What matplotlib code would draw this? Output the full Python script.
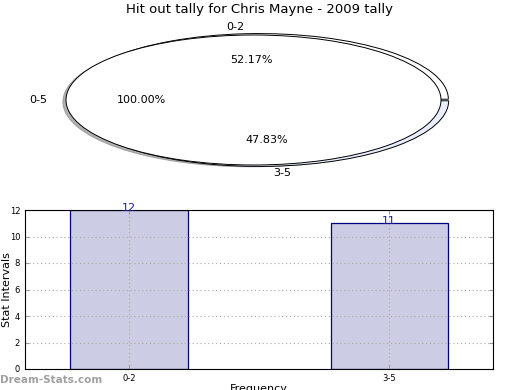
import matplotlib
matplotlib.use("Agg")
import matplotlib.pyplot as plt

# pie data
inner_labels = ["0-5"]
inner_values = [23]
outer_labels = ["0-2", "3-5"]
outer_values = [12, 11]

# bar data
bar_labels = ["0-2", "3-5"]
bar_values = [12, 11]

fig = plt.figure(figsize=(5.2, 3.9), dpi=100)
W, H = 520.0, 390.0

fig.text(260 / W, 1 - 10 / H, "Hit out tally for Chris Mayne - 2009 tally",
         ha="center", va="center", fontsize=9.5)

# top: flattened pie (outer thin ring under an inner full wedge)
ax1 = fig.add_axes([66 / W, 1 - 165 / H, 375 / W, 130 / H])
ax1.pie(outer_values, labels=outer_labels, autopct="%.2f%%", startangle=0,
        counterclock=True, radius=1.01, center=(0.03, 0.0),
        explode=[0.012, 0.012],
        colors=["white", "#e8eefc"],
        wedgeprops=dict(edgecolor="black", linewidth=0.7),
        textprops=dict(fontsize=8), labeldistance=1.1, pctdistance=0.6)
ax1.pie(inner_values, labels=inner_labels, autopct="%.2f%%", startangle=0,
        radius=1.0, shadow=dict(shade=0.5, ox=-0.012, oy=-0.02, alpha=0.6),
        colors=["white"],
        wedgeprops=dict(edgecolor="black", linewidth=0.7),
        textprops=dict(fontsize=8), labeldistance=1.1, pctdistance=0.6)
ax1.set_aspect("auto")
ax1.set_xlim(-1, 1)
ax1.set_ylim(-1, 1)
ax1.axis("off")

# bottom: bar chart
ax2 = fig.add_axes([25 / W, 1 - 369 / H, 468 / W, 159 / H])
x = list(range(len(bar_labels)))
ax2.bar(x, bar_values, width=0.45, color="#ccccE4", edgecolor="#000080",
        linewidth=0.9, zorder=1)
for xi, v in zip(x, bar_values):
    ax2.annotate(str(v), (xi, v), xytext=(0, -2), textcoords="offset points",
                 ha="center", va="bottom", color="#1a1aa0", fontsize=8,
                 zorder=4)
ax2.set_xlim(-0.4, 1.4)
ax2.set_ylim(0, 12)
ax2.set_yticks(range(0, 13, 2))
ax2.set_xticks(x)
ax2.set_xticklabels(bar_labels)
ax2.tick_params(labelsize=6, direction="in", right=True, top=True, length=3,
                color="#999999")
ax2.set_axisbelow("line")
ax2.grid(True, linestyle=(0, (1, 2.5)), color="#aaaaaa", linewidth=0.8)
ax2.set_ylabel("Stat Intervals", fontsize=8)
ax2.yaxis.set_label_coords(-13 / 468, 0.5)
ax2.set_xlabel("Frequency", fontsize=8)
ax2.xaxis.set_label_coords(0.5, -15 / 159)

fig.text(0 / W, 1 - 380 / H, "Dream-Stats.com", ha="left", va="center",
         fontsize=7.5, color="#a0a0a0", fontweight="bold")

fig.savefig("out.png", dpi=100)
